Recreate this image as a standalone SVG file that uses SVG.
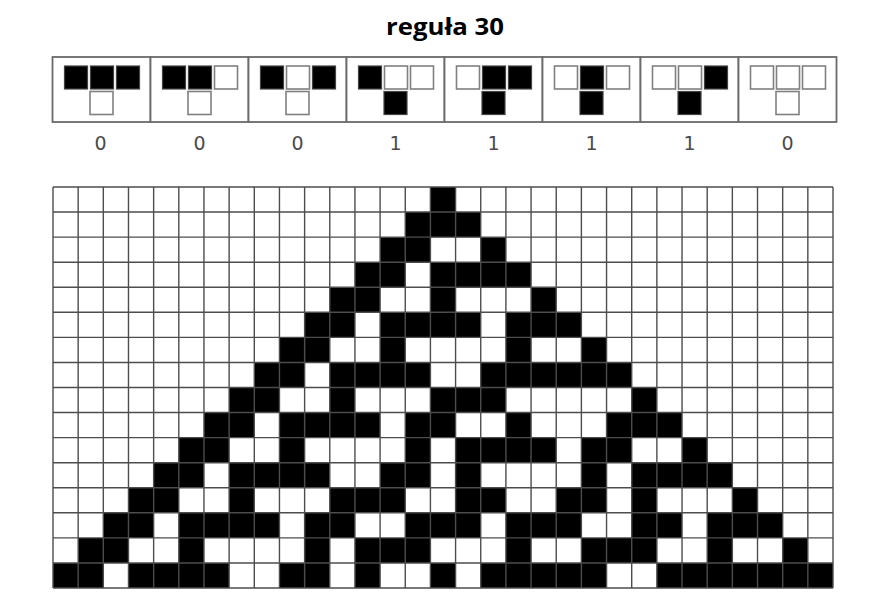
<svg xmlns="http://www.w3.org/2000/svg" width="888" height="601" viewBox="0 0 888 601">
<style>
.cell{fill:#fff;stroke:#6a6a6a;stroke-width:1.8}
.on{fill:#000;stroke:#444;stroke-width:1.2}
.off{fill:#fff;stroke:#808080;stroke-width:1.6}
.lbl{font-family:"DejaVu Sans",sans-serif;font-size:19px;fill:#4a4a4a;text-anchor:middle}
.title{font-family:"Open Sans","Liberation Sans",sans-serif;font-weight:bold;font-size:24px;fill:#000;text-anchor:middle}
.gl{fill:none;stroke:#4d4d4d;stroke-width:1.4}
</style>
<rect width="888" height="601" fill="#fff"/>
<g id="title"><text class="title" x="445" y="34.5" textLength="118" lengthAdjust="spacingAndGlyphs">reguła 30</text></g>
<g id="rules">
<g id="rule-111" transform="translate(52.5,57)"><rect class="cell" width="98" height="65"/><rect class="on" x="12" y="9" width="23" height="23"/><rect class="on" x="38" y="9" width="23" height="23"/><rect class="on" x="64" y="9" width="23" height="23"/><rect class="off" x="37.5" y="34.5" width="23" height="23"/><text class="lbl" x="48" y="93">0</text></g>
<g id="rule-110" transform="translate(150.5,57)"><rect class="cell" width="98" height="65"/><rect class="on" x="12" y="9" width="23" height="23"/><rect class="on" x="38" y="9" width="23" height="23"/><rect class="off" x="64" y="9" width="23" height="23"/><rect class="off" x="37.5" y="34.5" width="23" height="23"/><text class="lbl" x="49" y="93">0</text></g>
<g id="rule-101" transform="translate(248.5,57)"><rect class="cell" width="98" height="65"/><rect class="on" x="12" y="9" width="23" height="23"/><rect class="off" x="38" y="9" width="23" height="23"/><rect class="on" x="64" y="9" width="23" height="23"/><rect class="off" x="37.5" y="34.5" width="23" height="23"/><text class="lbl" x="49" y="93">0</text></g>
<g id="rule-100" transform="translate(346.5,57)"><rect class="cell" width="98" height="65"/><rect class="on" x="12" y="9" width="23" height="23"/><rect class="off" x="38" y="9" width="23" height="23"/><rect class="off" x="64" y="9" width="23" height="23"/><rect class="on" x="37.5" y="34.5" width="23" height="23"/><text class="lbl" x="49" y="93">1</text></g>
<g id="rule-011" transform="translate(444.5,57)"><rect class="cell" width="98" height="65"/><rect class="off" x="12" y="9" width="23" height="23"/><rect class="on" x="38" y="9" width="23" height="23"/><rect class="on" x="64" y="9" width="23" height="23"/><rect class="on" x="37.5" y="34.5" width="23" height="23"/><text class="lbl" x="49" y="93">1</text></g>
<g id="rule-010" transform="translate(542.5,57)"><rect class="cell" width="98" height="65"/><rect class="off" x="12" y="9" width="23" height="23"/><rect class="on" x="38" y="9" width="23" height="23"/><rect class="off" x="64" y="9" width="23" height="23"/><rect class="on" x="37.5" y="34.5" width="23" height="23"/><text class="lbl" x="49" y="93">1</text></g>
<g id="rule-001" transform="translate(640.5,57)"><rect class="cell" width="98" height="65"/><rect class="off" x="12" y="9" width="23" height="23"/><rect class="off" x="38" y="9" width="23" height="23"/><rect class="on" x="64" y="9" width="23" height="23"/><rect class="on" x="37.5" y="34.5" width="23" height="23"/><text class="lbl" x="49" y="93">1</text></g>
<g id="rule-000" transform="translate(738.5,57)"><rect class="cell" width="98" height="65"/><rect class="off" x="12" y="9" width="23" height="23"/><rect class="off" x="38" y="9" width="23" height="23"/><rect class="off" x="64" y="9" width="23" height="23"/><rect class="off" x="37.5" y="34.5" width="23" height="23"/><text class="lbl" x="49" y="93">0</text></g>
</g>
<g id="grid" transform="translate(53,187) scale(25.1613,25.0625)">
<rect width="31" height="16" fill="#fff"/>
<path fill="#000" d="M15 0h1v1h-1z M14 1h3v1h-3z M13 2h2v1h-2z M17 2h1v1h-1z M12 3h2v1h-2z M15 3h4v1h-4z M11 4h2v1h-2z M15 4h1v1h-1z M19 4h1v1h-1z M10 5h2v1h-2z M13 5h4v1h-4z M18 5h3v1h-3z M9 6h2v1h-2z M13 6h1v1h-1z M18 6h1v1h-1z M21 6h1v1h-1z M8 7h2v1h-2z M11 7h4v1h-4z M17 7h6v1h-6z M7 8h2v1h-2z M11 8h1v1h-1z M15 8h3v1h-3z M23 8h1v1h-1z M6 9h2v1h-2z M9 9h4v1h-4z M14 9h2v1h-2z M18 9h1v1h-1z M22 9h3v1h-3z M5 10h2v1h-2z M9 10h1v1h-1z M14 10h1v1h-1z M16 10h4v1h-4z M21 10h2v1h-2z M25 10h1v1h-1z M4 11h2v1h-2z M7 11h4v1h-4z M13 11h2v1h-2z M16 11h1v1h-1z M21 11h1v1h-1z M23 11h4v1h-4z M3 12h2v1h-2z M7 12h1v1h-1z M11 12h3v1h-3z M16 12h2v1h-2z M20 12h2v1h-2z M23 12h1v1h-1z M27 12h1v1h-1z M2 13h2v1h-2z M5 13h4v1h-4z M10 13h2v1h-2z M14 13h3v1h-3z M18 13h3v1h-3z M23 13h2v1h-2z M26 13h3v1h-3z M1 14h2v1h-2z M5 14h1v1h-1z M10 14h1v1h-1z M12 14h3v1h-3z M18 14h1v1h-1z M21 14h3v1h-3z M26 14h1v1h-1z M29 14h1v1h-1z M0 15h2v1h-2z M3 15h4v1h-4z M9 15h2v1h-2z M12 15h1v1h-1z M15 15h1v1h-1z M17 15h5v1h-5z M24 15h7v1h-7z"/>
<path class="gl" vector-effect="non-scaling-stroke" d="M0 0V16M1 0V16M2 0V16M3 0V16M4 0V16M5 0V16M6 0V16M7 0V16M8 0V16M9 0V16M10 0V16M11 0V16M12 0V16M13 0V16M14 0V16M15 0V16M16 0V16M17 0V16M18 0V16M19 0V16M20 0V16M21 0V16M22 0V16M23 0V16M24 0V16M25 0V16M26 0V16M27 0V16M28 0V16M29 0V16M30 0V16M31 0V16M0 0H31M0 1H31M0 2H31M0 3H31M0 4H31M0 5H31M0 6H31M0 7H31M0 8H31M0 9H31M0 10H31M0 11H31M0 12H31M0 13H31M0 14H31M0 15H31M0 16H31"/>
</g>
</svg>
